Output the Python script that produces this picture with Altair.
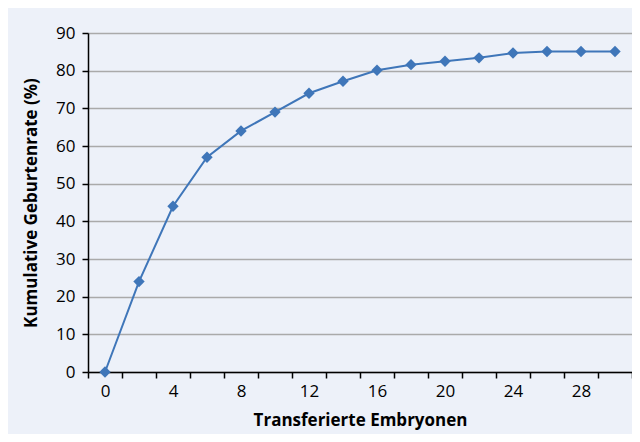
import altair as alt
import pandas as pd

embryos = [0, 2, 4, 6, 8, 10, 12, 14, 16, 18, 20, 22, 24, 26, 28, 30]
rate = [0, 24, 44, 57, 64, 69, 74, 77.2, 80.1, 81.6, 82.5, 83.4, 84.7, 85.1, 85.1, 85.1]

df = pd.DataFrame({"x": embryos, "y": rate})

FONT = "Open Sans"
BLUE = "#3f76b9"

base = alt.Chart(df).encode(
    x=alt.X(
        "x:Q",
        scale=alt.Scale(domain=[-1, 31], nice=False, zero=False),
        axis=alt.Axis(
            title="Transferierte Embryonen",
            values=list(range(-1, 32)),
            labelExpr="datum.value % 4 == 0 ? datum.value : ''",
            tickOpacity={"condition": {"test": "datum.value % 2 != 0", "value": 1}, "value": 0},
            labelOverlap=False,
            labelFlush=False,
            grid=False,
            tickSize=6,
            labelPadding=5,
            titlePadding=13,
        ),
    ),
    y=alt.Y(
        "y:Q",
        scale=alt.Scale(domain=[0, 90], nice=False),
        axis=alt.Axis(
            title="Kumulative Geburtenrate (%)",
            values=list(range(0, 91, 10)),
            tickSize=6,
            labelPadding=7,
            titlePadding=15,
            grid=True,
        ),
    ),
)

line = base.mark_line(color=BLUE, strokeWidth=2)
points = base.mark_point(shape="diamond", filled=True, color=BLUE, size=130, opacity=1)

chart = (
    (line + points)
    .properties(
        width=544,
        height=339,
        autosize=alt.AutoSizeParams(type="none"),
        padding={"left": 80, "top": 25, "right": 0, "bottom": 62},
        background="#edf1f9",
    )
    .configure_view(stroke=None, fill="#edf1f9")
    .configure_axis(
        labelFont=FONT,
        titleFont=FONT,
        labelFontSize=17,
        titleFontSize=17,
        titleFontWeight="bold",
        labelColor="#000000",
        titleColor="#000000",
        domainColor="#000000",
        domainWidth=1.5,
        tickColor="#000000",
        tickWidth=1.5,
        gridColor="#aaaaaa",
        gridWidth=1.5,
    )
)

chart.save("out.html", embed_options={"renderer": "svg", "actions": False})
